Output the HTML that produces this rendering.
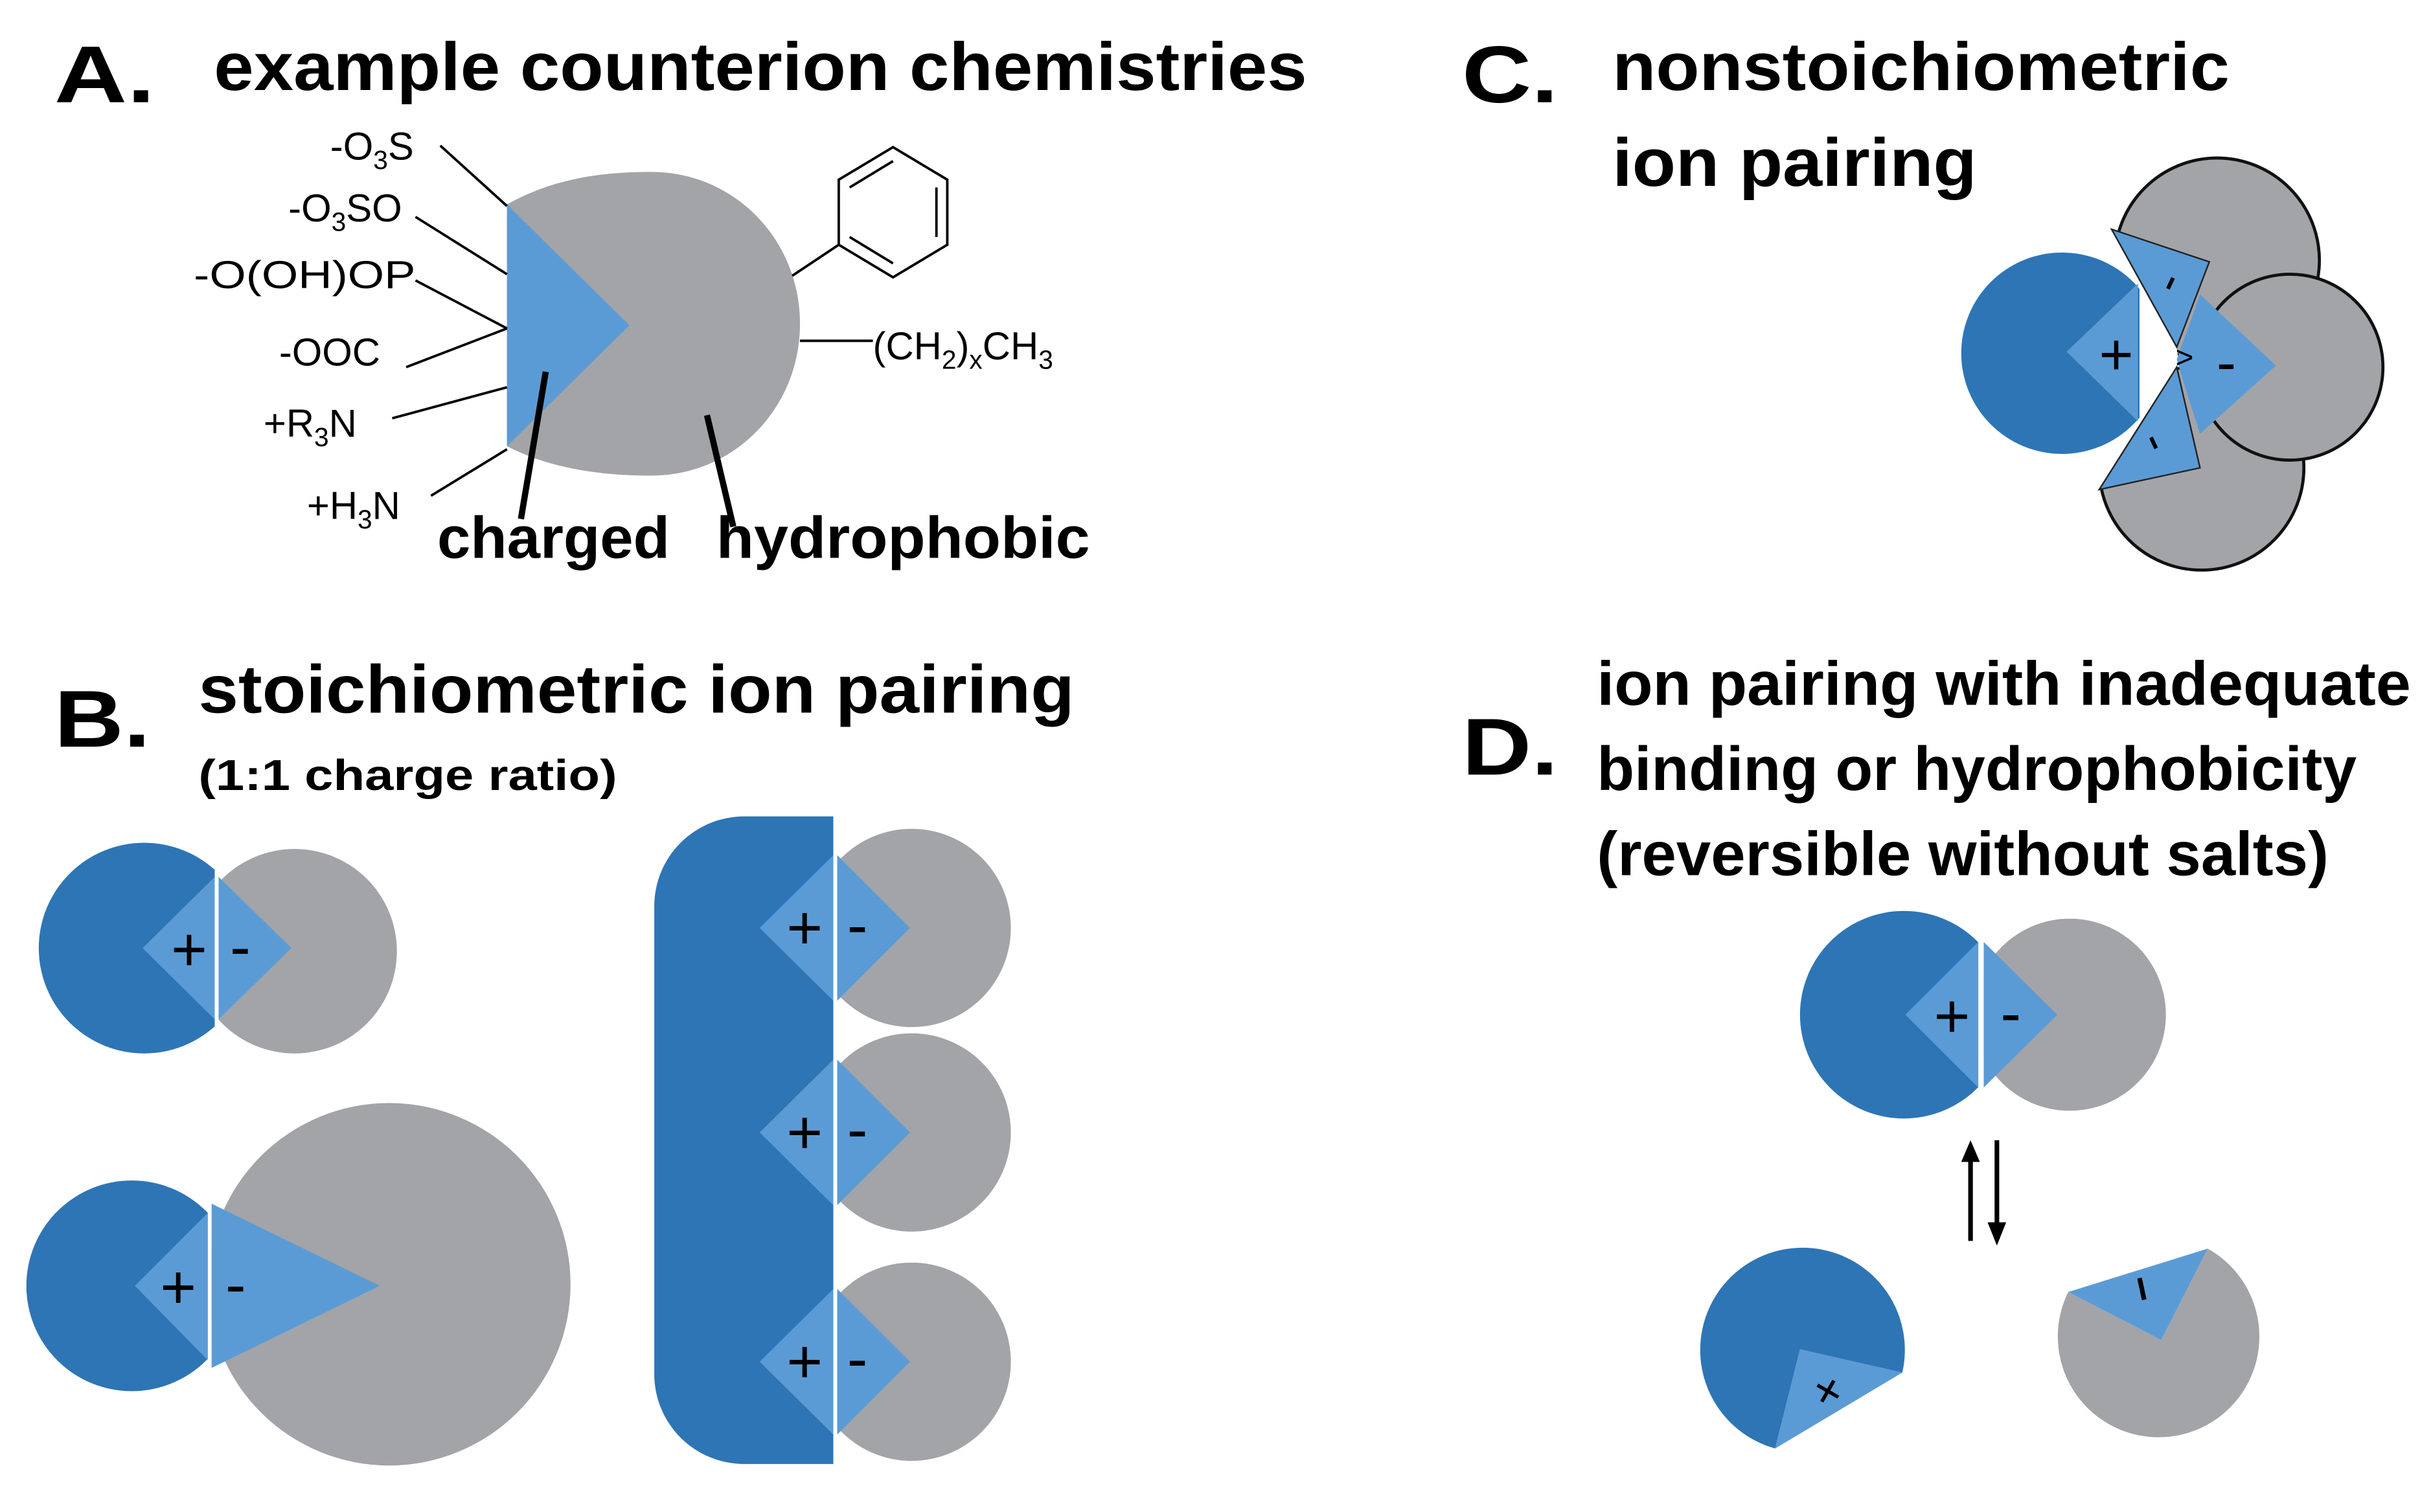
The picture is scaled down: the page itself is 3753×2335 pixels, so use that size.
<!DOCTYPE html>
<html><head><meta charset="utf-8"><style>
html,body{margin:0;padding:0;background:#fff;}
svg{display:block;}
text{font-family:"Liberation Sans",sans-serif;fill:#000;}
.b{font-weight:bold;}
</style></head><body>
<svg width="3753" height="2335" viewBox="0 0 1568 976" preserveAspectRatio="none" xmlns="http://www.w3.org/2000/svg">
<defs>
<clipPath id="b1l"><rect x="0" y="0" width="138.5" height="976"/></clipPath>
<clipPath id="b1r"><rect x="141" y="0" width="400" height="976"/></clipPath>
<clipPath id="b2l"><rect x="0" y="0" width="134" height="976"/></clipPath>
<clipPath id="b2r"><rect x="136.5" y="0" width="400" height="976"/></clipPath>
<clipPath id="brl"><rect x="0" y="0" width="537.5" height="976"/></clipPath>
<clipPath id="brr"><rect x="540" y="0" width="400" height="976"/></clipPath>
<clipPath id="dl"><rect x="0" y="0" width="1276" height="976"/></clipPath>
<clipPath id="dr"><rect x="1279.5" y="0" width="400" height="976"/></clipPath>
<clipPath id="cl"><rect x="0" y="0" width="1380" height="976"/></clipPath>
<clipPath id="ctop"><polygon points="1352,80 1620,80 1620,270 1410,270 1404,224 1362,148"/></clipPath>
<clipPath id="cbot"><polygon points="1404,237 1354,316 1340,400 1620,400 1620,225"/></clipPath>
</defs>

<!-- ===== Panel A ===== -->
<text class="b" x="35" y="66" font-size="52" textLength="65" lengthAdjust="spacingAndGlyphs">A.</text>
<text class="b" x="138" y="58" font-size="44" textLength="705" lengthAdjust="spacingAndGlyphs">example counterion chemistries</text>

<path d="M327 132 C352 118 380 111 420 111 C474 111 516 155 516 209 C516 263 474 307 420 307 C380 307 350 300 327 288 Z" fill="#a3a4a8"/>
<polygon points="327,132 406,210 327,288" fill="#5b9bd5"/>

<g stroke="#000" stroke-width="1.6" fill="none">
<line x1="284" y1="94" x2="327" y2="133"/>
<line x1="268" y1="140" x2="327" y2="177"/>
<line x1="268" y1="181" x2="327" y2="212"/>
<line x1="262" y1="237" x2="327" y2="212"/>
<line x1="253" y1="270" x2="327" y2="250"/>
<line x1="278" y1="320" x2="327" y2="290"/>
<line x1="516" y1="220" x2="563" y2="220"/>
<polygon points="576,95 611,116 611,158 576,179 541,158 541,116"/>
<line x1="548" y1="121" x2="576" y2="104"/>
<line x1="604" y1="121" x2="604" y2="153"/>
<line x1="548" y1="153" x2="576" y2="170"/>
<line x1="541" y1="158" x2="511" y2="178"/>
</g>
<g stroke="#000" stroke-width="4">
<line x1="352" y1="240" x2="336" y2="335"/>
<line x1="456" y1="268" x2="473" y2="340"/>
</g>

<g font-size="25">
<text x="213" y="103">-O<tspan font-size="17" dy="6">3</tspan><tspan dy="-6">S</tspan></text>
<text x="186" y="143">-O<tspan font-size="17" dy="6">3</tspan><tspan dy="-6">SO</tspan></text>
<text x="125" y="186" textLength="143" lengthAdjust="spacingAndGlyphs">-O(OH)OP</text>
<text x="180" y="236">-OOC</text>
<text x="170" y="282">+R<tspan font-size="17" dy="6">3</tspan><tspan dy="-6">N</tspan></text>
<text x="198" y="335">+H<tspan font-size="17" dy="6">3</tspan><tspan dy="-6">N</tspan></text>
<text x="563" y="232">(CH<tspan font-size="17" dy="6">2</tspan><tspan dy="-6">)</tspan><tspan font-size="17" dy="6">x</tspan><tspan dy="-6">CH</tspan><tspan font-size="17" dy="6">3</tspan></text>
</g>
<text class="b" x="282" y="360" font-size="38" textLength="150" lengthAdjust="spacingAndGlyphs">charged</text>
<text class="b" x="462" y="360" font-size="38" textLength="241" lengthAdjust="spacingAndGlyphs">hydrophobic</text>

<!-- ===== Panel C ===== -->
<text class="b" x="943" y="66" font-size="52" textLength="62" lengthAdjust="spacingAndGlyphs">C.</text>
<text class="b" x="1040" y="58" font-size="44" textLength="398" lengthAdjust="spacingAndGlyphs">nonstoichiometric</text>
<text class="b" x="1040" y="120" font-size="44" textLength="235" lengthAdjust="spacingAndGlyphs">ion pairing</text>

<circle cx="1430" cy="168" r="66" fill="#a3a4a8" stroke="#111" stroke-width="2" clip-path="url(#ctop)"/>
<polygon points="1362,148 1425,169 1404,224" fill="#5b9bd5" stroke="#222" stroke-width="1"/>
<circle cx="1420" cy="302" r="66" fill="#a3a4a8" stroke="#111" stroke-width="2" clip-path="url(#cbot)"/>
<polygon points="1404,237 1419,302 1354,316" fill="#5b9bd5" stroke="#222" stroke-width="1"/>
<circle cx="1330" cy="228" r="65" fill="#2e75b6" clip-path="url(#cl)"/>
<polygon points="1333,227 1379,183 1379,272" fill="#5b9bd5"/>
<circle cx="1477" cy="237" r="60" fill="#a3a4a8" stroke="#111" stroke-width="2"/>
<polygon points="1419,190 1468,236 1419,280 1410,252 1404,232 1412,210" fill="#5b9bd5"/>
<text x="1365" y="229" font-size="38" text-anchor="middle" dominant-baseline="central">+</text>
<text x="1436" y="234" font-size="38" text-anchor="middle" dominant-baseline="central">-</text>
<text x="1398" y="182" font-size="32" text-anchor="middle" dominant-baseline="central" transform="rotate(-65 1398 182)">-</text>
<text x="1391" y="285" font-size="32" text-anchor="middle" dominant-baseline="central" transform="rotate(65 1391 285)">-</text>
<text x="1409" y="231" font-size="20" text-anchor="middle" dominant-baseline="central">&gt;</text>

<!-- ===== Panel B ===== -->
<text class="b" x="35" y="482" font-size="52" textLength="62" lengthAdjust="spacingAndGlyphs">B.</text>
<text class="b" x="128" y="460" font-size="44" textLength="565" lengthAdjust="spacingAndGlyphs">stoichiometric ion pairing</text>
<text class="b" x="128" y="510" font-size="28" textLength="270" lengthAdjust="spacingAndGlyphs">(1:1 charge ratio)</text>

<circle cx="93" cy="612" r="68" fill="#2e75b6" clip-path="url(#b1l)"/>
<circle cx="190" cy="614" r="66" fill="#a3a4a8" clip-path="url(#b1r)"/>
<polygon points="92,612 138.5,566 138.5,658" fill="#5b9bd5"/>
<polygon points="141,566 188,612 141,658" fill="#5b9bd5"/>
<text x="122" y="613" font-size="40" text-anchor="middle" dominant-baseline="central">+</text>
<text x="155" y="611" font-size="40" text-anchor="middle" dominant-baseline="central">-</text>

<circle cx="85" cy="830" r="68" fill="#2e75b6" clip-path="url(#b2l)"/>
<circle cx="251" cy="829" r="117" fill="#a3a4a8" clip-path="url(#b2r)"/>
<polygon points="87,830 134,783 134,878" fill="#5b9bd5"/>
<polygon points="136.5,777 245,830 136.5,883" fill="#5b9bd5"/>
<text x="115" y="831" font-size="40" text-anchor="middle" dominant-baseline="central">+</text>
<text x="152" y="829" font-size="40" text-anchor="middle" dominant-baseline="central">-</text>

<rect x="422" y="527" width="240" height="418" rx="58" ry="58" fill="#2e75b6" clip-path="url(#brl)"/>
<g clip-path="url(#brr)" fill="#a3a4a8">
<circle cx="588" cy="599" r="64"/>
<circle cx="588" cy="731" r="64"/>
<circle cx="588" cy="879" r="64"/>
</g>
<g fill="#5b9bd5">
<polygon points="490,599 537.5,552 537.5,646"/><polygon points="540,552 587,599 540,646"/>
<polygon points="490,731 537.5,684 537.5,778"/><polygon points="540,684 587,731 540,778"/>
<polygon points="490,879 537.5,832 537.5,926"/><polygon points="540,832 587,879 540,926"/>
</g>
<g font-size="40" text-anchor="middle" dominant-baseline="central">
<text x="519" y="599">+</text><text x="553" y="597">-</text>
<text x="519" y="731">+</text><text x="553" y="729">-</text>
<text x="519" y="879">+</text><text x="553" y="877">-</text>
</g>

<!-- ===== Panel D ===== -->
<text class="b" x="943" y="500" font-size="52" textLength="62" lengthAdjust="spacingAndGlyphs">D.</text>
<text class="b" x="1030" y="455" font-size="40" textLength="525" lengthAdjust="spacingAndGlyphs">ion pairing with inadequate</text>
<text class="b" x="1030" y="510" font-size="40" textLength="490" lengthAdjust="spacingAndGlyphs">binding or hydrophobicity</text>
<text class="b" x="1030" y="565" font-size="40" textLength="472" lengthAdjust="spacingAndGlyphs">(reversible without salts)</text>

<circle cx="1228" cy="655" r="67" fill="#2e75b6" clip-path="url(#dl)"/>
<circle cx="1335" cy="655" r="62" fill="#a3a4a8" clip-path="url(#dr)"/>
<polygon points="1229,655 1276,608 1276,702" fill="#5b9bd5"/>
<polygon points="1279.5,608 1327,655 1279.5,702" fill="#5b9bd5"/>
<text x="1259" y="656" font-size="40" text-anchor="middle" dominant-baseline="central">+</text>
<text x="1297" y="654" font-size="40" text-anchor="middle" dominant-baseline="central">-</text>

<g stroke="#000" stroke-width="3">
<line x1="1271" y1="801" x2="1271" y2="748"/>
<line x1="1288" y1="736" x2="1288" y2="790"/>
</g>
<polygon points="1265,750 1277,750 1271,736" fill="#000"/>
<polygon points="1282,789 1294,789 1288,804" fill="#000"/>

<path d="M1161 871 L1227 886 A66 66 0 1 0 1145 935 Z" fill="#2e75b6"/>
<polygon points="1161,871 1227,886 1145,935" fill="#5b9bd5"/>
<text x="1179" y="898" font-size="32" text-anchor="middle" dominant-baseline="central" transform="rotate(30 1179 898)">+</text>

<path d="M1394 865 L1334 834 A65 65 0 1 0 1424 806 Z" fill="#a3a4a8"/>
<polygon points="1394,865 1334,834 1424,806" fill="#5b9bd5"/>
<line x1="1380" y1="825" x2="1383" y2="839" stroke="#000" stroke-width="3"/>
</svg>
</body></html>
